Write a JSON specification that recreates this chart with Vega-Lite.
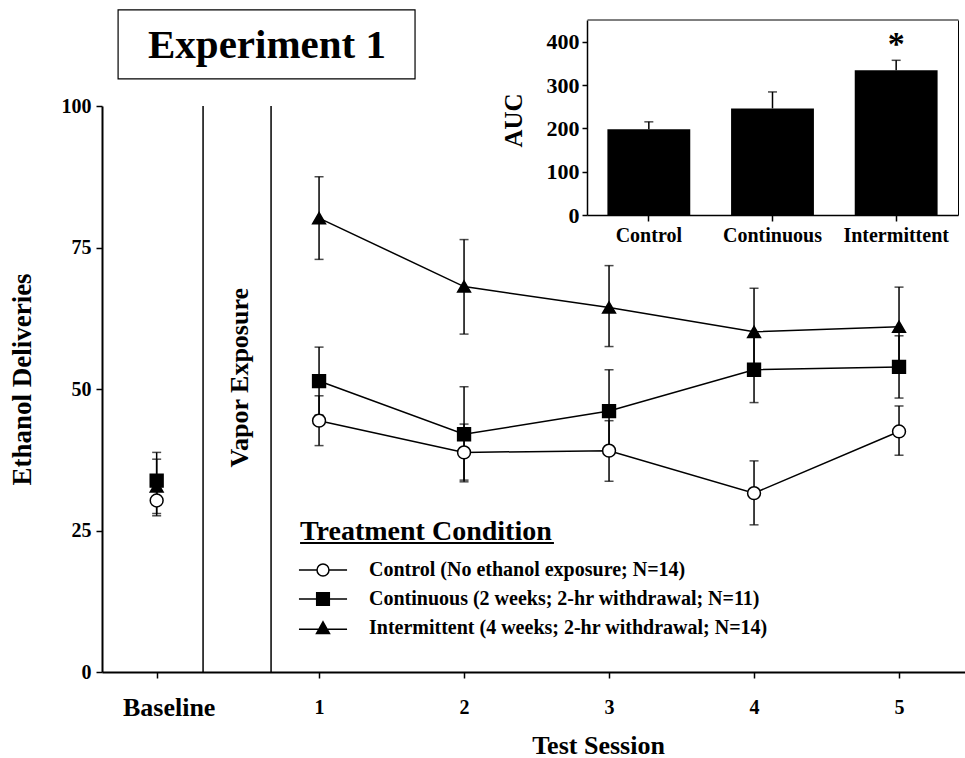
{
  "$schema": "https://vega.github.io/schema/vega-lite/v6.json",
  "width": 863,
  "height": 566,
  "autosize": {"type": "none"},
  "padding": {"left": 102, "top": 106, "right": 0, "bottom": 86},
  "background": "white",
  "datasets": {
    "sessions": [
      {"cond": "Intermittent", "x": -0.12, "mean": 32.8, "lower": 28.0, "upper": 37.6},
      {"cond": "Intermittent", "x": 1, "mean": 80.2, "lower": 72.9, "upper": 87.5},
      {"cond": "Intermittent", "x": 2, "mean": 68.1, "lower": 59.7, "upper": 76.4},
      {"cond": "Intermittent", "x": 3, "mean": 64.4, "lower": 57.5, "upper": 71.8},
      {"cond": "Intermittent", "x": 4, "mean": 60.1, "lower": 52.4, "upper": 67.8},
      {"cond": "Intermittent", "x": 5, "mean": 61.0, "lower": 54.0, "upper": 68.0},
      {"cond": "Continuous", "x": -0.12, "mean": 33.8, "lower": 29.6, "upper": 38.8},
      {"cond": "Continuous", "x": 1, "mean": 51.4, "lower": 45.4, "upper": 57.4},
      {"cond": "Continuous", "x": 2, "mean": 42.0, "lower": 33.6, "upper": 50.4},
      {"cond": "Continuous", "x": 3, "mean": 46.1, "lower": 38.8, "upper": 53.4},
      {"cond": "Continuous", "x": 4, "mean": 53.4, "lower": 47.6, "upper": 59.2},
      {"cond": "Continuous", "x": 5, "mean": 53.9, "lower": 48.4, "upper": 59.4},
      {"cond": "Control", "x": -0.12, "mean": 30.3, "lower": 27.6, "upper": 33.0},
      {"cond": "Control", "x": 1, "mean": 44.4, "lower": 40.0, "upper": 48.8},
      {"cond": "Control", "x": 2, "mean": 38.8, "lower": 33.9, "upper": 43.8},
      {"cond": "Control", "x": 3, "mean": 39.1, "lower": 33.7, "upper": 44.4},
      {"cond": "Control", "x": 4, "mean": 31.6, "lower": 26.0, "upper": 37.3},
      {"cond": "Control", "x": 5, "mean": 42.5, "lower": 38.3, "upper": 47.0}
    ],
    "auc": [
      {"group": "Control", "auc": 198, "upper": 215, "sig": ""},
      {"group": "Continuous", "auc": 246, "upper": 284, "sig": ""},
      {"group": "Intermittent", "auc": 334, "upper": 357, "sig": "*"}
    ],
    "phases": [{"x": 0.2}, {"x": 0.669}]
  },
  "layer": [
    {
      "layer": [
        {
          "data": {"name": "phases"},
          "mark": {"type": "rule", "stroke": "black", "strokeWidth": 1.5},
          "encoding": {
            "x": {"field": "x", "type": "quantitative", "scale": {"domain": [-0.497, 5.455], "nice": false, "zero": false}},
            "y": {"datum": 0, "type": "quantitative", "scale": {"domain": [0, 100], "nice": false, "zero": false}},
            "y2": {"datum": 100}
          }
        },
        {
          "data": {"values": [{"label": "Vapor Exposure"}]},
          "mark": {"type": "text", "angle": 270, "font": "Liberation Serif", "fontWeight": "bold", "fontSize": 26, "align": "center", "baseline": "middle", "color": "black"},
          "encoding": {
            "text": {"field": "label"},
            "x": {"datum": 0.455, "type": "quantitative", "scale": {"domain": [-0.497, 5.455], "nice": false, "zero": false}},
            "y": {"datum": 52, "type": "quantitative", "scale": {"domain": [0, 100], "nice": false, "zero": false}}
          }
        },
        {
          "data": {"values": [{"title": "Treatment Condition"}]},
          "mark": {"type": "rule", "stroke": "black", "strokeWidth": 2},
          "encoding": {
            "x": {"datum": 0.869, "type": "quantitative", "scale": {"domain": [-0.497, 5.455], "nice": false, "zero": false}},
            "x2": {"datum": 2.62},
            "y": {"datum": 22.8, "type": "quantitative", "scale": {"domain": [0, 100], "nice": false, "zero": false}}
          }
        },
        {
          "data": {"values": [{"title": "Experiment 1"}]},
          "mark": {"type": "rect", "fill": "white", "stroke": "black", "strokeWidth": 1.2},
          "encoding": {
            "x": {"datum": -0.386, "type": "quantitative", "scale": {"domain": [-0.497, 5.455], "nice": false, "zero": false}},
            "x2": {"datum": 1.662},
            "y": {"datum": 117, "type": "quantitative", "scale": {"domain": [0, 100], "nice": false, "zero": false}},
            "y2": {"datum": 104.8}
          }
        },
        {
          "data": {"values": [{"title": "Experiment 1"}]},
          "mark": {"type": "text", "font": "Liberation Serif", "fontWeight": "bold", "fontSize": 41, "align": "center", "baseline": "middle", "color": "black"},
          "encoding": {
            "text": {"field": "title"},
            "x": {"datum": 0.641, "type": "quantitative", "scale": {"domain": [-0.497, 5.455], "nice": false, "zero": false}},
            "y": {"datum": 110.6, "type": "quantitative", "scale": {"domain": [0, 100], "nice": false, "zero": false}}
          }
        },
        {
          "data": {"name": "sessions"},
          "mark": {"type": "rule", "stroke": "black", "strokeWidth": 1.5},
          "encoding": {
            "x": {"field": "x", "type": "quantitative", "scale": {"domain": [-0.497, 5.455], "nice": false, "zero": false}},
            "y": {"field": "lower", "type": "quantitative", "scale": {"domain": [0, 100], "nice": false, "zero": false}},
            "y2": {"field": "upper"}
          }
        },
        {
          "data": {"name": "sessions"},
          "mark": {"type": "tick", "orient": "horizontal", "size": 9, "thickness": 1.5, "color": "black"},
          "encoding": {
            "x": {"field": "x", "type": "quantitative", "scale": {"domain": [-0.497, 5.455], "nice": false, "zero": false}},
            "y": {"field": "upper", "type": "quantitative", "scale": {"domain": [0, 100], "nice": false, "zero": false}}
          }
        },
        {
          "data": {"name": "sessions"},
          "mark": {"type": "tick", "orient": "horizontal", "size": 9, "thickness": 1.5, "color": "black"},
          "encoding": {
            "x": {"field": "x", "type": "quantitative", "scale": {"domain": [-0.497, 5.455], "nice": false, "zero": false}},
            "y": {"field": "lower", "type": "quantitative", "scale": {"domain": [0, 100], "nice": false, "zero": false}}
          }
        },
        {
          "data": {"name": "sessions"},
          "transform": [{"filter": "datum.x > 0"}],
          "mark": {"type": "line", "color": "black", "strokeWidth": 1.5},
          "encoding": {
            "x": {"field": "x", "type": "quantitative", "scale": {"domain": [-0.497, 5.455], "nice": false, "zero": false}},
            "y": {"field": "mean", "type": "quantitative", "scale": {"domain": [0, 100], "nice": false, "zero": false}},
            "detail": {"field": "cond", "type": "nominal"}
          }
        },
        {
          "data": {"name": "sessions"},
          "mark": {"type": "point", "filled": true, "size": 165, "stroke": "black", "strokeWidth": 1.5, "opacity": 1},
          "encoding": {
            "x": {
              "field": "x", "type": "quantitative",
              "scale": {"domain": [-0.497, 5.455], "nice": false, "zero": false},
              "axis": {
                "orient": "bottom",
                "values": [-0.12, 1, 2, 3, 4, 5],
                "format": "d",
                "labelExpr": "datum.value < 0 ? 'Baseline' : datum.label",
                "labelFontSize": {"condition": {"test": "datum.value < 0", "value": 26}, "value": 20},
                "labelOffset": {"condition": {"test": "datum.value < 0", "value": 12}, "value": 0},
                "labelBaseline": "middle",
                "labelPadding": 29,
                "tickSize": 6,
                "labelFlush": false,
                "labelOverlap": false,
                "title": "Test Session",
                "titleFontSize": 26,
                "titleX": 496,
                "titleY": 81,
                "titleAlign": "center",
                "titleBaseline": "alphabetic"
              }
            },
            "y": {
              "field": "mean", "type": "quantitative",
              "scale": {"domain": [0, 100], "nice": false, "zero": false},
              "axis": {
                "orient": "left",
                "values": [0, 25, 50, 75, 100],
                "labelFontSize": 20,
                "tickSize": 6,
                "labelPadding": 5,
                "labelFlush": false,
                "title": "Ethanol Deliveries",
                "titleFontSize": 27,
                "titleX": -80,
                "titleY": 273,
                "titleAngle": 270,
                "titleAlign": "center",
                "titleBaseline": "middle"
              }
            },
            "shape": {"field": "cond", "type": "nominal", "scale": {"domain": ["Control", "Continuous", "Intermittent"], "range": ["circle", "square", "triangle-up"]}, "legend": null},
            "fill": {"field": "cond", "type": "nominal", "scale": {"domain": ["Control", "Continuous", "Intermittent"], "range": ["white", "black", "black"]}, "legend": null}
          }
        }
      ]
    },
    {
      "data": {"name": "auc"},
      "encoding": {
        "x": {
          "field": "group", "type": "nominal", "sort": null,
          "scale": {"domain": ["Control", "Continuous", "Intermittent"], "range": [485, 856], "paddingInner": 0.33, "paddingOuter": 0.165},
          "axis": {"orient": "bottom", "offset": -457, "title": null, "labelAngle": 0, "labelFontSize": 20, "tickSize": 6, "labelPadding": 14, "labelBaseline": "middle", "domainWidth": 1.5}
        }
      },
      "layer": [
        {
          "mark": {"type": "bar", "color": "black"},
          "encoding": {
            "y": {
              "field": "auc", "type": "quantitative",
              "scale": {"domain": [0, 450], "range": [109, -86], "nice": false, "zero": true},
              "axis": {"orient": "left", "offset": -485, "values": [0, 100, 200, 300, 400], "title": "AUC", "titleFontSize": 25, "titleX": -74, "titleY": 14, "titleAngle": 270, "titleAlign": "center", "titleBaseline": "middle", "labelFontSize": 22, "tickSize": 5, "labelPadding": 3, "domainWidth": 1.5}
            }
          }
        },
        {
          "mark": {"type": "rule", "stroke": "black", "strokeWidth": 1.5},
          "encoding": {
            "y": {"field": "auc", "type": "quantitative", "scale": {"domain": [0, 450], "range": [109, -86], "nice": false, "zero": true}},
            "y2": {"field": "upper"}
          }
        },
        {
          "mark": {"type": "tick", "orient": "horizontal", "size": 9, "thickness": 1.5, "color": "black"},
          "encoding": {
            "y": {"field": "upper", "type": "quantitative", "scale": {"domain": [0, 450], "range": [109, -86], "nice": false, "zero": true}}
          }
        },
        {
          "mark": {"type": "text", "font": "Liberation Serif", "fontWeight": "bold", "fontSize": 34, "baseline": "alphabetic", "align": "center", "dy": -5, "color": "black"},
          "encoding": {
            "y": {"field": "upper", "type": "quantitative", "scale": {"domain": [0, 450], "range": [109, -86], "nice": false, "zero": true}},
            "text": {"field": "sig"}
          }
        }
      ]
    },
    {
      "data": {"name": "auc"},
      "transform": [{"filter": "false"}],
      "mark": {"type": "bar", "color": "black"},
      "encoding": {
        "x": {
          "field": "group", "type": "nominal", "sort": null,
          "scale": {"domain": ["Control", "Continuous", "Intermittent"], "range": [485, 856], "paddingInner": 0.33, "paddingOuter": 0.165},
          "axis": {"orient": "top", "offset": 86.5, "labels": false, "ticks": false, "title": null, "domainWidth": 1}
        },
        "y": {
          "field": "auc", "type": "quantitative",
          "scale": {"domain": [0, 450], "range": [109, -86], "nice": false, "zero": true},
          "axis": {"orient": "right", "offset": -7, "labels": false, "ticks": false, "title": null, "domainWidth": 1}
        }
      }
    },
    {
      "data": {"name": "sessions"},
      "transform": [{"filter": "false"}],
      "mark": {"type": "point", "filled": true, "stroke": "black", "strokeWidth": 1.5, "size": 169},
      "encoding": {
        "shape": {
          "field": "cond", "type": "nominal",
          "scale": {
            "domain": ["Control", "Continuous", "Intermittent"],
            "range": [
              "M-3.7,0H-0.92M0.92,0H3.7M-0.92,0A0.92,0.92,0,1,0,0.92,0A0.92,0.92,0,1,0,-0.92,0Z",
              "M-3.7,0H-0.97M0.97,0H3.7M-0.97,-0.97H0.97V0.97H-0.97Z",
              "M-3.7,0.2H-0.6M0.6,0.2H3.7M0,-0.95L1,0.85H-1Z"
            ]
          },
          "legend": {
            "title": "Treatment Condition",
            "orient": "none",
            "legendX": 198,
            "legendY": 412,
            "padding": 0,
            "titleFont": "Liberation Serif",
            "titleFontSize": 28,
            "titleFontWeight": "bold",
            "titleColor": "black",
            "titleLimit": 500,
            "titlePadding": 14,
            "labelFont": "Liberation Serif",
            "labelFontSize": 20,
            "labelFontWeight": "bold",
            "labelColor": "black",
            "labelLimit": 0,
            "labelOffset": 36,
            "symbolOffset": 13,
            "rowPadding": 9,
            "symbolSize": 169,
            "symbolStrokeWidth": 1.5,
            "symbolStrokeColor": "black",
            "symbolOpacity": 1,
            "labelExpr": "datum.label == 'Control' ? 'Control (No ethanol exposure; N=14)' : datum.label == 'Continuous' ? 'Continuous (2 weeks; 2-hr withdrawal; N=11)' : 'Intermittent (4 weeks; 2-hr withdrawal; N=14)'"
          }
        },
        "fill": {
          "field": "cond", "type": "nominal",
          "scale": {"domain": ["Control", "Continuous", "Intermittent"], "range": ["white", "black", "black"]}
        },
        "stroke": {
          "field": "cond", "type": "nominal",
          "scale": {"domain": ["Control", "Continuous", "Intermittent"], "range": ["black", "black", "black"]}
        }
      }
    }
  ],
  "resolve": {
    "scale": {"x": "independent", "y": "independent", "shape": "independent", "fill": "independent", "stroke": "independent"}
  },
  "config": {
    "view": {"stroke": null},
    "font": "Liberation Serif",
    "axis": {
      "grid": false,
      "domainColor": "black",
      "tickColor": "black",
      "labelColor": "black",
      "titleColor": "black",
      "labelFont": "Liberation Serif",
      "titleFont": "Liberation Serif",
      "labelFontWeight": "bold",
      "titleFontWeight": "bold",
      "domainWidth": 2,
      "tickWidth": 1.5
    }
  }
}
